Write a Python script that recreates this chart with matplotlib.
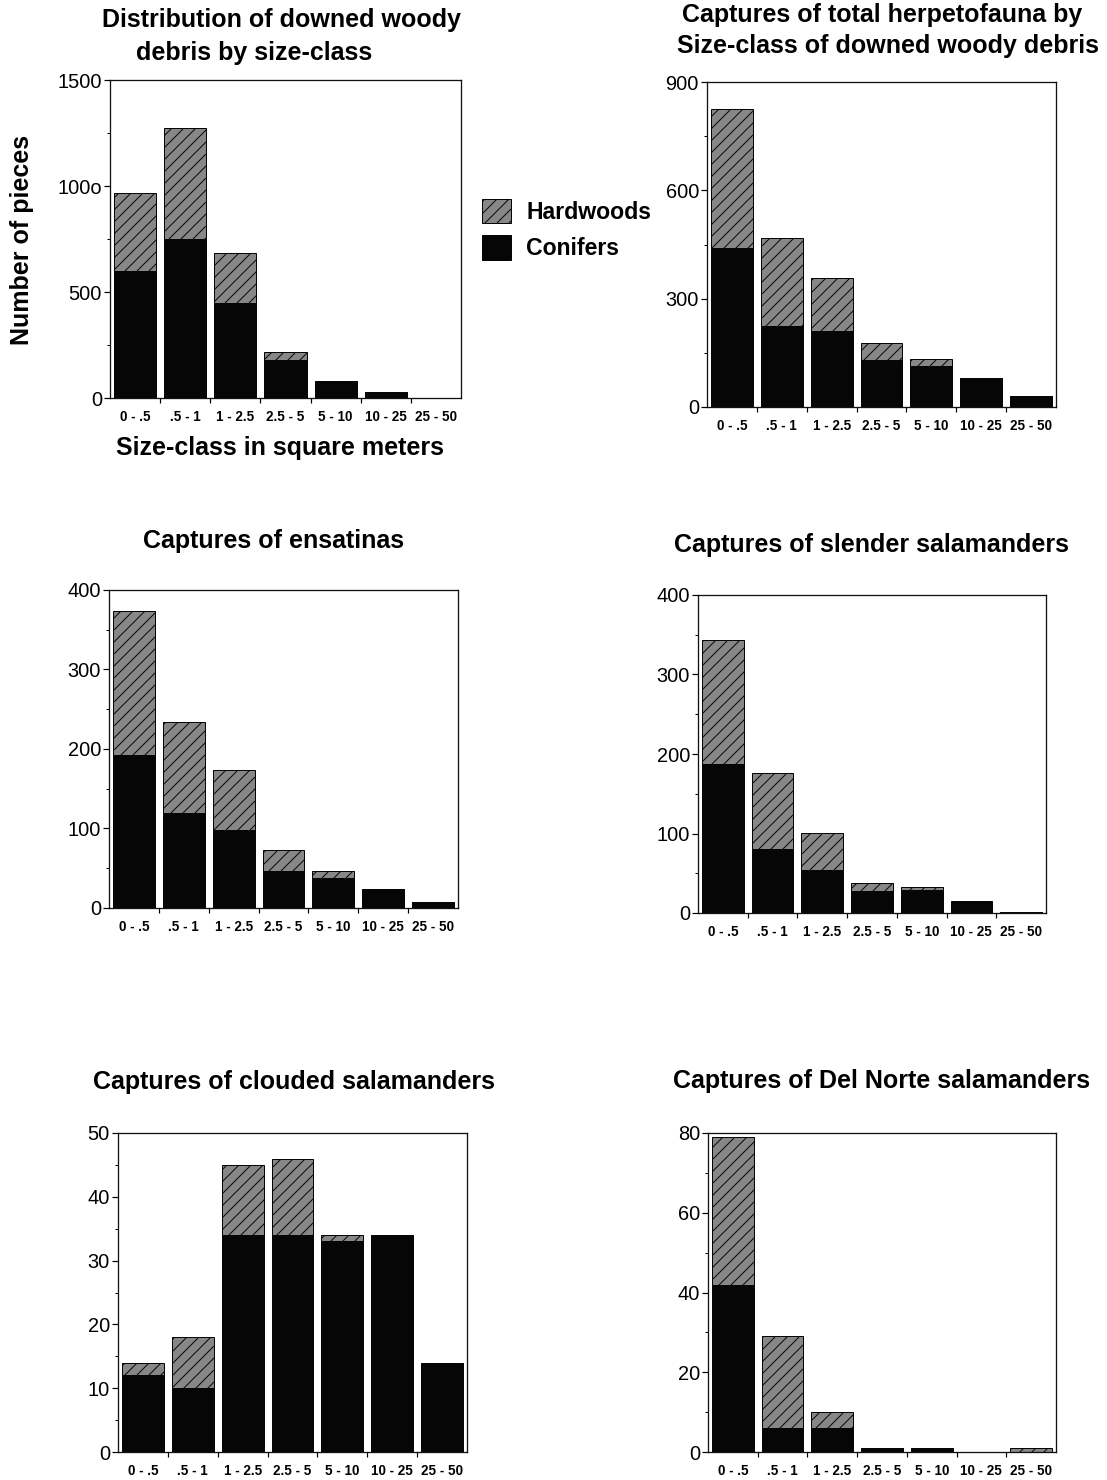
import matplotlib
matplotlib.use("Agg")
import matplotlib.pyplot as plt
from matplotlib.ticker import MultipleLocator, FixedLocator, FixedFormatter, NullFormatter
import numpy as np

plt.rcParams['font.family'] = ['Liberation Sans', 'DejaVu Sans']
plt.rcParams['hatch.linewidth'] = 1.0
plt.rcParams['hatch.color'] = 'black'

# ---------------- data ----------------
size_classes = ['0 - .5', '.5 - 1', '1 - 2.5', '2.5 - 5', '5 - 10', '10 - 25', '25 - 50']

dwd_conifers = [600, 750, 450, 180, 82, 26, 0]
dwd_hardwoods = [366, 525, 233, 38, 0, 0, 0]

herp_conifers = [441, 224, 211, 129, 114, 81, 30]
herp_hardwoods = [383, 245, 145, 48, 18, 0, 0]

ens_conifers = [192, 120, 98, 47, 38, 24, 7]
ens_hardwoods = [182, 114, 76, 26, 8, 0, 0]

slender_conifers = [188, 80, 54, 28, 29, 15, 1]
slender_hardwoods = [156, 96, 47, 10, 4, 0, 0]

clouded_conifers = [12, 10, 34, 34, 33, 34, 14]
clouded_hardwoods = [2, 8, 11, 12, 1, 0, 0]

delnorte_conifers = [42, 6, 6, 1, 1, 0, 0]
delnorte_hardwoods = [37, 23, 4, 0, 0, 0, 1]

dwd_yticks = [0, 500, 1000, 1500]
dwd_yticklabels = ['0', '500', '100o', '1500']

# ---------------- layout ----------------
W, H = 1107, 1480
DPI = 72
fig = plt.figure(figsize=(W / DPI, H / DPI), dpi=DPI)
fig.patch.set_facecolor('white')


def rect(l, t, r, b):
    return [l / W, 1 - b / H, (r - l) / W, (b - t) / H]


BLACK = '#060606'
GRAY = '#878787'


def panel(box, con, hard, ymax, major, minor, ticklabels=None):
    ax = fig.add_axes(rect(*box))
    x = np.arange(len(size_classes))
    bc = ax.bar(x, con, width=0.84, color=BLACK, edgecolor=BLACK, linewidth=1.0,
                label='Conifers', zorder=2)
    bh = ax.bar(x, hard, bottom=con, width=0.84, color=GRAY, edgecolor=BLACK,
                linewidth=1.0, hatch='//', label='Hardwoods', zorder=2)
    ax.set_xlim(-0.5, len(size_classes) - 0.5)
    ax.set_ylim(0, ymax)
    ax.yaxis.set_major_locator(MultipleLocator(major))
    ax.yaxis.set_minor_locator(MultipleLocator(minor))
    if ticklabels is not None:
        ax.yaxis.set_major_locator(FixedLocator(dwd_yticks))
        ax.yaxis.set_major_formatter(FixedFormatter(ticklabels))
    ax.set_xticks(x)
    ax.set_xticklabels(size_classes, fontsize=13.5, fontweight='bold')
    ax.xaxis.set_minor_locator(FixedLocator(np.arange(0.5, len(size_classes) - 0.5, 1.0)))
    ax.xaxis.set_minor_formatter(NullFormatter())
    ax.tick_params(axis='x', which='major', length=0, pad=12)
    ax.tick_params(axis='x', which='minor', length=5, width=1.2, direction='out')
    ax.tick_params(axis='y', which='major', length=6, width=1.2, direction='out',
                   labelsize=20, pad=2)
    ax.tick_params(axis='y', which='minor', length=3, width=1.0, direction='out')
    for s in ax.spines.values():
        s.set_linewidth(1.3)
        s.set_color('#111111')
    return ax, bc, bh


ax1, bc1, bh1 = panel((110, 80, 461, 398), dwd_conifers, dwd_hardwoods, 1500, 500, 250,
                      ticklabels=dwd_yticklabels)
ax2, _, _ = panel((707, 82, 1056, 407), herp_conifers, herp_hardwoods, 900, 300, 150)
ax3, _, _ = panel((109, 590, 458, 908), ens_conifers, ens_hardwoods, 400, 100, 50)
ax4, _, _ = panel((698, 595, 1046, 913), slender_conifers, slender_hardwoods, 400, 100, 50)
ax5, _, _ = panel((118, 1133, 467, 1452), clouded_conifers, clouded_hardwoods, 50, 10, 5)
ax6, _, _ = panel((708, 1133, 1056, 1452), delnorte_conifers, delnorte_hardwoods, 80, 20, 10)


def ftext(x, y, s, size=25, **kw):
    fig.text(x / W, 1 - y / H, s, fontsize=size, fontweight='bold',
             ha='center', va='center', **kw)


# titles
ftext(282, 20, 'Distribution of downed woody')
ftext(254, 53, 'debris by size-class')
ftext(882, 15, 'Captures of total herpetofauna by')
ftext(888, 46, 'Size-class of downed woody debris')
ftext(274, 541, 'Captures of ensatinas')
ftext(871, 545, 'Captures of slender salamanders')
ftext(294, 1082, 'Captures of clouded salamanders')
ftext(882, 1081, 'Captures of Del Norte salamanders')

# axis labels
ftext(280, 448, 'Size-class in square meters')
fig.text(22 / W, 1 - 240 / H, 'Number of pieces', fontsize=25, fontweight='bold',
         rotation=90, ha='center', va='center')

# legend
fig.legend(handles=[bh1, bc1], labels=['Hardwoods', 'Conifers'],
           loc='upper left', bbox_to_anchor=(481.5 / W, 1 - 199 / H),
           frameon=False, prop={'size': 23, 'weight': 'bold'},
           handlelength=1.3, handleheight=1.26, labelspacing=0.5,
           handletextpad=0.65, borderpad=0, borderaxespad=0)

fig.savefig('out.png', dpi=DPI, facecolor='white')
